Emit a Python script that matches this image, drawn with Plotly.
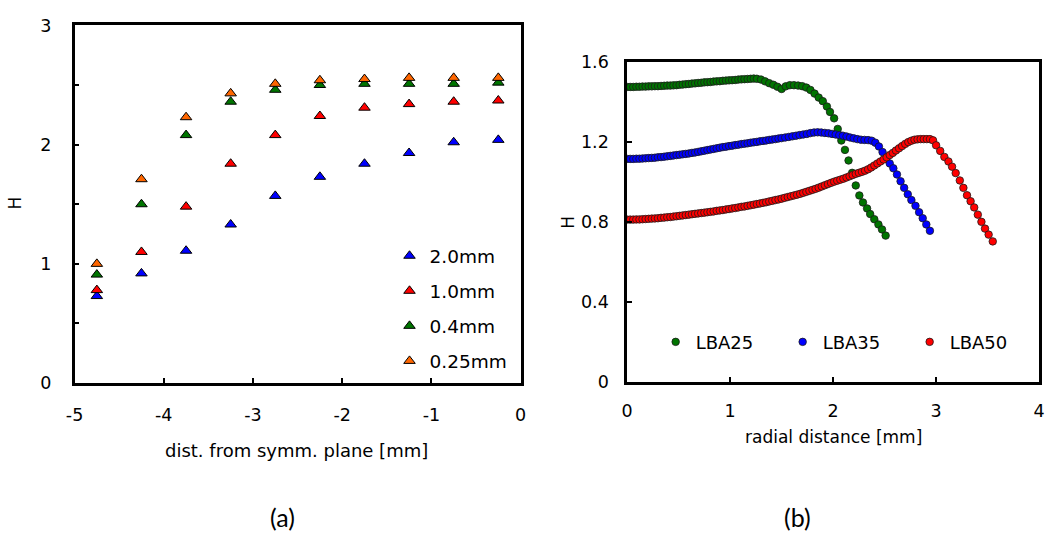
import plotly.graph_objects as go

# ---------------- data: panel (a) ----------------
dist_mm = [-4.75, -4.25, -3.75, -3.25, -2.75, -2.25, -1.75, -1.25, -0.75, -0.25]
h_2_0mm = [0.73, 0.92, 1.11, 1.33, 1.57, 1.73, 1.84, 1.93, 2.02, 2.04]
h_1_0mm = [0.78, 1.10, 1.48, 1.84, 2.08, 2.24, 2.31, 2.34, 2.36, 2.37]
h_0_4mm = [0.91, 1.50, 2.08, 2.36, 2.46, 2.50, 2.51, 2.51, 2.51, 2.52]
h_0_25mm = [1.00, 1.71, 2.23, 2.43, 2.51, 2.54, 2.55, 2.56, 2.56, 2.56]
series_a_names = ["2.0mm", "1.0mm", "0.4mm", "0.25mm"]
series_a_colors = ["#0000FF", "#FF0000", "#007400", "#FF6600"]
xa_ticks = [-5, -4, -3, -2, -1, 0]
xa_ticktext = ["-5", "-4", "-3", "-2", "-1", "0"]
ya_ticks = [0, 1, 2, 3]

# ---------------- data: panel (b) ----------------
lba25_r = [0.00, 0.03, 0.06, 0.09, 0.12, 0.15, 0.18, 0.21, 0.24, 0.27, 0.30, 0.33, 0.36, 0.39, 0.42,
           0.45, 0.48, 0.51, 0.54, 0.57, 0.60, 0.63, 0.66, 0.69, 0.72, 0.75, 0.78, 0.81, 0.84, 0.87,
           0.90, 0.93, 0.96, 0.99, 1.02, 1.05, 1.08, 1.11, 1.14, 1.17, 1.20, 1.23, 1.26,
           1.30, 1.34, 1.38, 1.42, 1.46, 1.50, 1.54, 1.58, 1.62, 1.66, 1.70, 1.74, 1.78, 1.82, 1.86,
           1.90, 1.94, 1.97, 2.01, 2.045, 2.08, 2.115, 2.15, 2.185, 2.22, 2.255, 2.29, 2.33, 2.36,
           2.40, 2.44, 2.475, 2.51]
lba25_h = [1.475, 1.475, 1.475, 1.476, 1.476, 1.477, 1.477, 1.478, 1.478, 1.479, 1.479, 1.480, 1.481,
           1.482, 1.482, 1.483, 1.484, 1.486, 1.487, 1.489, 1.490, 1.492, 1.493, 1.495, 1.496, 1.498,
           1.499, 1.500, 1.502, 1.503, 1.504, 1.506, 1.507, 1.508, 1.509, 1.510, 1.512, 1.513, 1.514,
           1.515, 1.516, 1.517, 1.516,
           1.512, 1.503, 1.494, 1.486, 1.476, 1.465, 1.478, 1.484, 1.484, 1.482, 1.479, 1.472, 1.460,
           1.442, 1.422, 1.404, 1.377, 1.350, 1.318, 1.265, 1.207, 1.160, 1.107, 1.045, 0.982, 0.932,
           0.897, 0.867, 0.839, 0.813, 0.787, 0.762, 0.731]

lba35_r = [0.00, 0.03, 0.06, 0.09, 0.12, 0.15, 0.18, 0.21, 0.24, 0.27, 0.30, 0.33, 0.36, 0.39, 0.42,
           0.45, 0.48, 0.51, 0.54, 0.57, 0.60, 0.63, 0.66, 0.69, 0.72, 0.75, 0.78, 0.81, 0.84, 0.87,
           0.90, 0.93, 0.96, 0.99, 1.02, 1.05, 1.08, 1.11, 1.14, 1.17, 1.20, 1.23, 1.26, 1.29, 1.32,
           1.35, 1.38, 1.41, 1.44, 1.47, 1.50,
           1.535, 1.57, 1.605, 1.64, 1.675, 1.71, 1.745, 1.78, 1.815, 1.85, 1.885, 1.92, 1.955, 1.99,
           2.025, 2.06, 2.095, 2.13, 2.165, 2.20, 2.235, 2.27, 2.305, 2.34, 2.375, 2.41, 2.445, 2.48,
           2.515, 2.55, 2.585, 2.62, 2.655, 2.69, 2.725, 2.76, 2.80, 2.835, 2.87, 2.905, 2.94]
lba35_h = [1.115, 1.115, 1.115, 1.116, 1.116, 1.117, 1.118, 1.119, 1.120, 1.121, 1.123, 1.124, 1.126,
           1.128, 1.130, 1.132, 1.134, 1.136, 1.138, 1.140, 1.142, 1.145, 1.147, 1.150, 1.153, 1.156,
           1.159, 1.162, 1.165, 1.168, 1.171, 1.174, 1.176, 1.179, 1.181, 1.184, 1.186, 1.189, 1.191,
           1.193, 1.196, 1.198, 1.200, 1.203, 1.205, 1.207, 1.210, 1.212, 1.214, 1.217, 1.219,
           1.222, 1.225, 1.228, 1.231, 1.234, 1.237, 1.240, 1.244, 1.247, 1.248, 1.247, 1.245, 1.243,
           1.240, 1.237, 1.234, 1.231, 1.227, 1.222, 1.218, 1.214, 1.211, 1.210, 1.209, 1.206, 1.196,
           1.177, 1.149, 1.116, 1.092, 1.068, 1.037, 1.003, 0.970, 0.938, 0.909, 0.880, 0.848, 0.818,
           0.787, 0.755]

lba50_r = [0.00, 0.03, 0.06, 0.09, 0.12, 0.15, 0.18, 0.21, 0.24, 0.27, 0.30, 0.33, 0.36, 0.39, 0.42,
           0.45, 0.48, 0.51, 0.54, 0.57, 0.60, 0.63, 0.66, 0.69, 0.72, 0.75, 0.78, 0.81, 0.84, 0.87,
           0.90, 0.93, 0.96, 0.99, 1.02, 1.05, 1.08, 1.11, 1.14, 1.17, 1.20, 1.23, 1.26, 1.29, 1.32,
           1.35, 1.38, 1.41, 1.44, 1.47, 1.50, 1.53, 1.56, 1.59, 1.62, 1.65, 1.68, 1.71, 1.74, 1.77,
           1.80, 1.83, 1.86, 1.89, 1.92, 1.95, 1.98, 2.01, 2.04, 2.07, 2.10, 2.13, 2.16, 2.19, 2.22,
           2.25, 2.28, 2.31, 2.34, 2.37, 2.40, 2.43, 2.46, 2.49, 2.52, 2.55, 2.58, 2.61, 2.64, 2.67,
           2.70, 2.73, 2.76, 2.79, 2.82, 2.85, 2.88, 2.91, 2.94, 2.97,
           3.00, 3.04, 3.08, 3.12, 3.155, 3.19, 3.23, 3.265, 3.30, 3.335, 3.37, 3.405, 3.44, 3.475,
           3.51, 3.55]
lba50_h = [0.811, 0.811, 0.811, 0.812, 0.812, 0.813, 0.814, 0.815, 0.816, 0.817, 0.818, 0.820, 0.821,
           0.823, 0.824, 0.826, 0.828, 0.830, 0.832, 0.834, 0.836, 0.838, 0.840, 0.842, 0.844, 0.846,
           0.848, 0.850, 0.852, 0.855, 0.857, 0.859, 0.862, 0.864, 0.867, 0.869, 0.872, 0.875, 0.877,
           0.880, 0.883, 0.886, 0.889, 0.892, 0.895, 0.898, 0.902, 0.905, 0.909, 0.912, 0.916, 0.920,
           0.924, 0.928, 0.932, 0.936, 0.940, 0.945, 0.950, 0.955, 0.960, 0.965, 0.971, 0.977, 0.983,
           0.989, 0.995, 1.001, 1.006, 1.011, 1.016, 1.022, 1.028, 1.034, 1.040, 1.045, 1.050, 1.056,
           1.063, 1.072, 1.082, 1.092, 1.102, 1.112, 1.123, 1.134, 1.145, 1.157, 1.168, 1.179, 1.190,
           1.199, 1.206, 1.211, 1.213, 1.214, 1.214, 1.214, 1.214, 1.208,
           1.183, 1.155, 1.125, 1.102, 1.076, 1.044, 1.007, 0.970, 0.933, 0.903, 0.872, 0.836, 0.800,
           0.766, 0.736, 0.702]
series_b_names = ["LBA25", "LBA35", "LBA50"]
series_b_colors = ["#007400", "#0000FF", "#FF0000"]
xb_ticks = [0, 1, 2, 3, 4]
yb_ticks = [0, 0.4, 0.8, 1.2, 1.6]
yb_ticktext = ["0", "0.4", "0.8", "1.2", "1.6"]

# ---------------- figure ----------------
W, H = 1053, 538
FONT = "DejaVu Sans"


def px_x(p):
    return p / W


def px_y(p):
    return 1 - p / H


fig = go.Figure()

for name, ys, col in zip(series_a_names, [h_2_0mm, h_1_0mm, h_0_4mm, h_0_25mm], series_a_colors):
    fig.add_trace(go.Scatter(
        x=dist_mm, y=ys, mode="markers", name=name, xaxis="x", yaxis="y",
        legend="legend", legendgroup=name,
        marker=dict(symbol="triangle-up", size=10, color=col, line=dict(color="black", width=1)),
    ))

for name, xs, ys, col in zip(series_b_names, [lba25_r, lba35_r, lba50_r],
                             [lba25_h, lba35_h, lba50_h], series_b_colors):
    fig.add_trace(go.Scatter(
        x=xs, y=ys, mode="markers", name=name, xaxis="x2", yaxis="y2",
        legend="legend2",
        marker=dict(symbol="circle", size=7.5, color=col, line=dict(color="#1a1a1a", width=0.8)),
    ))

axis_common = dict(
    showgrid=False, zeroline=False, showline=True, linecolor="black", linewidth=2.5,
    mirror=True, ticks="inside", ticklen=5, tickwidth=1.8, tickcolor="black",
    tickfont=dict(family=FONT, size=17.5, color="black"),
)

fig.update_layout(
    width=W, height=H,
    margin=dict(l=0, r=0, t=0, b=0),
    paper_bgcolor="white", plot_bgcolor="white",
    font=dict(family=FONT, color="black"),
    xaxis=dict(domain=[px_x(66.5), px_x(519)], range=[-5, 0], anchor="y",
               tickvals=xa_ticks, ticktext=xa_ticktext,
               ticklabelstandoff=14, **axis_common),
    yaxis=dict(domain=[px_y(387.5), px_y(16)], range=[0, 3], tickvals=ya_ticks, anchor="x",
               ticklabelstandoff=17,
               minor=dict(dtick=0.5, ticks="inside", ticklen=5, tickwidth=1.8, tickcolor="black"),
               **axis_common),
    xaxis2=dict(domain=[px_x(627), px_x(1045)], range=[0, 4], tickvals=xb_ticks, anchor="y2",
                ticklabelstandoff=12, **axis_common),
    yaxis2=dict(domain=[px_y(386), px_y(54)], range=[0, 1.6], anchor="x2",
                tickvals=yb_ticks, ticktext=yb_ticktext,
                ticklabelstandoff=12, **axis_common),
    legend=dict(x=px_x(386), y=px_y(236), xanchor="left", yanchor="top",
                bgcolor="rgba(0,0,0,0)", borderwidth=0, tracegroupgap=8,
                font=dict(family=FONT, size=18.5, color="black")),
    legend2=dict(x=px_x(656), y=px_y(345), xanchor="left", yanchor="middle",
                 orientation="h", bgcolor="rgba(0,0,0,0)", borderwidth=0,
                 entrywidth=82, entrywidthmode="pixels",
                 font=dict(family=FONT, size=18, color="black")),
    showlegend=True,
)

annotations = [
    dict(text="dist. from symm. plane [mm]", x=px_x(292), y=px_y(457), size=18, angle=0),
    dict(text="radial distance [mm]", x=px_x(836), y=px_y(444), size=17, angle=0),
    dict(text="H", x=px_x(567), y=px_y(220), size=17, angle=-90),
]
for a in annotations:
    fig.add_annotation(text=a["text"], x=a["x"], y=a["y"], xref="paper", yref="paper",
                       xanchor="center", yanchor="middle", showarrow=False, textangle=a["angle"],
                       font=dict(family=FONT, size=a["size"], color="black"))

fig.add_annotation(text="H", x=0, y=px_y(201), xref="paper", yref="paper",
                   xanchor="left", yanchor="middle", xshift=-6, showarrow=False, textangle=-90,
                   font=dict(family=FONT, size=17, color="black"))

for lab, xc in [("(a)", 277), ("(b)", 800)]:
    fig.add_annotation(text=lab, x=px_x(xc), y=px_y(527), xref="paper", yref="paper",
                       xanchor="center", yanchor="middle", showarrow=False,
                       font=dict(family="Lato", size=25, color="black"))

fig.write_html("out.html")
